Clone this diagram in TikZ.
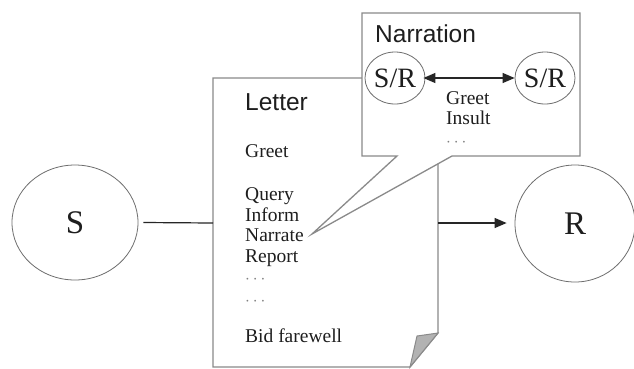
\documentclass[tikz,border=0pt]{standalone}
\usepackage{fontspec}
\setmainfont{Liberation Serif}
\newfontfamily\sansf{Liberation Sans}
\usetikzlibrary{shapes.geometric,arrows.meta}
\definecolor{boxgray}{HTML}{8A8A8A}
\definecolor{circgray}{HTML}{6E6E6E}
\definecolor{txt}{HTML}{1E1E1E}
\tikzset{
  agent/.style={ellipse,draw=circgray,line width=0.8pt,inner sep=0pt,text=txt,font=\fontsize{33}{33}\selectfont},
  subagent/.style={ellipse,draw=circgray,line width=0.8pt,inner sep=0pt,minimum width=60pt,minimum height=52pt,text=txt,font=\fontsize{28}{28}\selectfont},
  item/.style={anchor=base west,inner sep=0pt,text=txt,font=\fontsize{19.5}{20}\selectfont},
  title/.style={anchor=base west,inner sep=0pt,text=txt,font=\sansf\fontsize{24.5}{25}\selectfont},
  dots/.style={anchor=base west,inner sep=0pt,text=gray,font=\fontsize{16}{16}\selectfont},
  boxline/.style={draw=boxgray,line width=1.3pt,line join=miter},
  conn/.style={draw=black!85,line width=1.2pt},
  tip/.style={-{Triangle[length=12pt,width=10pt]}}
}
\begin{document}
\begin{tikzpicture}[x=1pt,y=-1pt]
\useasboundingbox (0,0) rectangle (634,368);
\fill[white] (0,0) rectangle (634,368);
% Letter page
\coordinate (Ltl) at (213,78);
\coordinate (Ltr) at (438,78);
\coordinate (Lfold) at (438,333);
\coordinate (Lcurl) at (417,336);
\coordinate (Ltip) at (410,367);
\coordinate (Lbl) at (213,367);
\coordinate (Lin) at (213,223);
\coordinate (Lout) at (438,223);
\path[boxline,fill=white] (Ltl) -- (Ltr) -- (Lfold) -- (Ltip) -- (Lbl) -- cycle;
\path[boxline,fill=black!30,line width=1pt] (Lfold) -- (Lcurl) -- (Ltip) -- cycle;
\node[title] (lettertitle) at (245,110) {Letter};
\node[item] (greet) at (245,157) {Greet};
\node[item] (query) at (245,200) {Query};
\node[item] (inform) at (245,221) {Inform};
\node[item] (narrate) at (245,241) {Narrate};
\node[item] (report) at (245,262) {Report};
\node[dots] (dotsa) at (245,283) {$\cdots$};
\node[dots] (dotsb) at (245,305) {$\cdots$};
\node[item] (bid) at (245,342) {Bid farewell};
% Agents
\node[agent,minimum width=126pt,minimum height=115pt] (S) at (75,222.5) {S};
\node[agent,minimum width=120pt,minimum height=117pt] (R) at (575,223.5) {R};
\draw[conn] ([xshift=5pt]S.east) -- (Lin);
\draw[conn,tip] (Lout) -- ([xshift=-8pt]R.west |- Lout);
% Narration callout
\coordinate (Ntl) at (362,13);
\coordinate (Ntr) at (580,13);
\coordinate (Nbr) at (580,156);
\coordinate (Nb2) at (452,156);
\coordinate (Npt) at (312,234);
\coordinate (Nb1) at (397,156);
\coordinate (Nbl) at (362,156);
\path[boxline,fill=white] (Ntl) -- (Ntr) -- (Nbr) -- (Nb2) -- (Npt) -- (Nb1) -- (Nbl) -- cycle;
\node[title] (narrtitle) at (375,42) {Narration};
\node[subagent] (SR1) at (395,78) {S/R};
\node[subagent] (SR2) at (545,78) {S/R};
\draw[conn,{Triangle[length=12pt,width=10pt]}-{Triangle[length=12pt,width=10pt]}] ([xshift=-2pt]SR1.east) -- ([xshift=0pt]SR2.west);
\node[item] (ngreet) at (446,104) {Greet};
\node[item] (ninsult) at (446,124) {Insult};
\node[dots] (ndots) at (446,146) {$\cdots$};
\end{tikzpicture}
\end{document}
